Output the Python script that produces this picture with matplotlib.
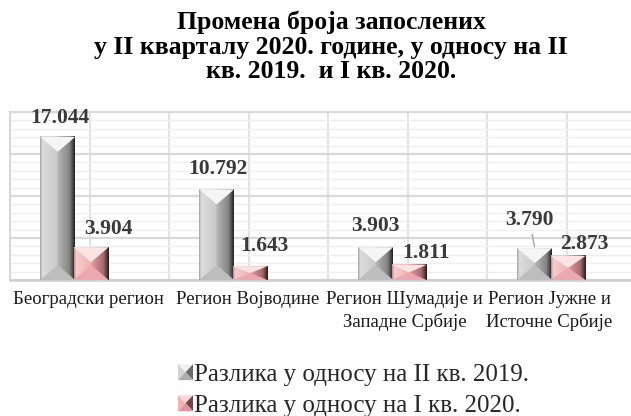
import numpy as np
import matplotlib.pyplot as plt
from matplotlib.patches import Polygon, Rectangle
from matplotlib.colors import LinearSegmentedColormap
from matplotlib.legend_handler import HandlerBase

plt.rcParams['font.family'] = ['Liberation Serif', 'DejaVu Serif']

# data
regions = ["Београдски регион", "Регион Војводине",
           "Регион Шумадије и\nЗападне Србије", "Регион Јужне и\nИсточне Србије"]
diff_q2_2019 = [17.044, 10.792, 3.903, 3.790]
diff_q1_2020 = [3.904, 1.643, 1.811, 2.873]
series_names = ["Разлика у односу на II кв. 2019.", "Разлика у односу на I кв. 2020."]
title = "Промена броја запослених\nу II кварталу 2020. године, у односу на II\nкв. 2019.  и I кв. 2020."

# looks
gray_cmap = LinearSegmentedColormap.from_list("g", [(0, "#a0a0a0"), (0.06, "#dcdcdc"), (0.49, "#cacaca"),
                                                    (0.51, "#b6b6b6"), (0.84, "#858585"), (0.94, "#4a4a4a"),
                                                    (1, "#1e1e1e")])
pink_cmap = LinearSegmentedColormap.from_list("p", [(0, "#b88a8a"), (0.06, "#f6cccc"), (0.49, "#f2b0b5"),
                                                    (0.51, "#e49aa2"), (0.84, "#a86a70"), (0.94, "#603838"),
                                                    (1, "#2a1818")])
styles = [dict(cmap=gray_cmap, top="#f5f5f5", bot="#bdbdbd", leg=("#f0f0f0", "#d4d4d4", "#6a6a6a", "#acacac")),
          dict(cmap=pink_cmap, top="#fce4e4", bot="#eca8b0", leg=("#f8d8d8", "#f0b4b4", "#7a4444", "#e490a0"))]
offsets = [-0.2, 0.01]
bar_w = 0.22
label_off = [[(2, 19), (1, 20), (0, 21), (-5, 28)],
             [(17, 18), (14, 20), (17, 12), (16, 12)]]
leader = [[False, False, False, True], [False] * 4]

fig = plt.figure(figsize=(6.31, 4.16), dpi=100)
ax = fig.add_axes([10 / 631, 136 / 416, 636 / 631, 168 / 416])
ax.set_xlim(-0.5, 3.5)
ax.set_ylim(0, 20)

ax.set_yticks(np.arange(0, 21, 5))
ax.set_yticks(np.arange(0, 21, 1), minor=True)
ax.tick_params(axis='y', which='both', length=0, labelleft=False)
ax.set_xticks([])
ax.grid(which='major', axis='y', color='#d9d9d9', lw=1.6, zorder=0)
ax.grid(which='minor', axis='y', color='#efefef', lw=1.0, zorder=0)
ax.set_axisbelow(True)
for xv in np.arange(-0.5, 3.6, 0.5):
    ax.axvline(xv, color='#e2e2e2', lw=1.5, zorder=0.5)
for s in ['left', 'top']:
    ax.spines[s].set_color('#d9d9d9')
    ax.spines[s].set_linewidth(1.5)
ax.spines['bottom'].set_color('#cfcfcf')
ax.spines['bottom'].set_linewidth(1.8)
ax.spines['right'].set_visible(False)

ppu_y = ax.transData.transform((0, 1))[1] - ax.transData.transform((0, 0))[1]


def bevel_bar(xc, h, st):
    x0, x1 = xc - bar_w / 2, xc + bar_w / 2
    dv = min(15 / ppu_y, h / 2)
    ax.imshow(np.linspace(0, 1, 128)[None, :], cmap=st["cmap"], extent=(x0, x1, 0, h),
              aspect='auto', origin='lower', zorder=3, interpolation='bilinear')
    ax.add_patch(Polygon([(x0, h), (x1, h), (xc, h - dv)], closed=True, facecolor=st["top"], lw=0, zorder=4))
    ax.add_patch(Polygon([(x0, 0), (x1, 0), (xc, dv)], closed=True, facecolor=st["bot"], lw=0, zorder=4))


for k, vals in enumerate([diff_q2_2019, diff_q1_2020]):
    for i, v in enumerate(vals):
        xc = i + offsets[k]
        bevel_bar(xc, v, styles[k])
        dx, dy = label_off[k][i]
        arrow = dict(arrowstyle='-', color='#a6a6a6', lw=1, shrinkA=1, shrinkB=1) if leader[k][i] else None
        ax.annotate(f"{v:.3f}", xy=(xc, v), xytext=(dx, dy), textcoords='offset pixels',
                    ha='center', va='center', fontsize=15.5, fontweight='bold', color='#3a3a3a',
                    arrowprops=arrow, zorder=6)

ax.set_xlim(-0.5, 3.5)
ax.set_ylim(0, 20)

# category labels (last one pulled in from the edge)
lab_dx = [-1, -1, -3, -17]
for i, r in enumerate(regions):
    ax.annotate(r, xy=(i, 0), xycoords=('data', 'axes fraction'), xytext=(lab_dx[i], -11),
                textcoords='offset pixels', ha='center', va='top', fontsize=13.5,
                linespacing=1.35, color='#1a1a1a', annotation_clip=False)

fig.text(0.525, 1 - 11 / 416, title, ha='center', va='top', fontsize=18.5, fontweight='bold',
         linespacing=1.08)


class BevelHandler(HandlerBase):
    def __init__(self, cols):
        super().__init__()
        self.cols = cols

    def create_artists(self, legend, orig_handle, xdescent, ydescent, width, height, fontsize, trans):
        x0, y0 = -xdescent, -ydescent
        x1, y1 = x0 + width, y0 + height
        cx, cy = (x0 + x1) / 2, (y0 + y1) / 2
        top, left, right, bot = self.cols
        faces = [([(x0, y1), (x1, y1), (cx, cy)], top), ([(x0, y0), (x0, y1), (cx, cy)], left),
                 ([(x1, y0), (x1, y1), (cx, cy)], right), ([(x0, y0), (x1, y0), (cx, cy)], bot)]
        return [Polygon(p, closed=True, facecolor=c, lw=0, transform=trans) for p, c in faces]


handles = [Rectangle((0, 0), 1, 1) for _ in series_names]
fig.legend(handles, series_names, loc='upper left', bbox_to_anchor=(178 / 631, 1 - 364 / 416),
           frameon=False, fontsize=18, borderpad=0, borderaxespad=0, handlelength=0.6,
           handleheight=0.6, handletextpad=0.05, labelspacing=0.36, labelcolor='#262626',
           handler_map={h: BevelHandler(st["leg"]) for h, st in zip(handles, styles)})

fig.savefig("out.png", dpi=100)
